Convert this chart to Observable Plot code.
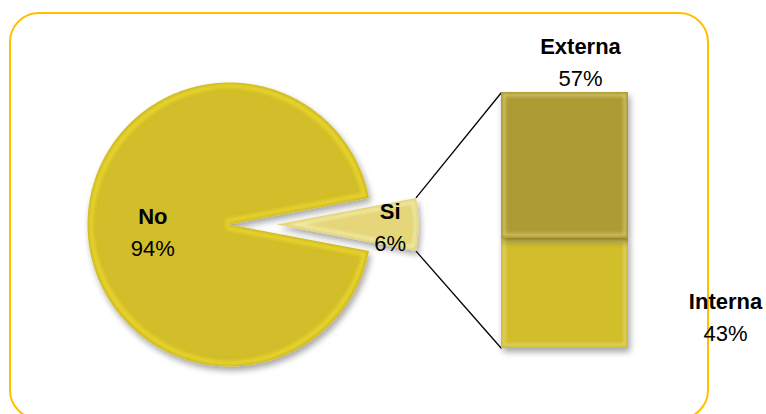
<!DOCTYPE html>
<html><head><meta charset="utf-8">
<script src="https://cdn.jsdelivr.net/npm/d3@7"></script>
<script src="https://cdn.jsdelivr.net/npm/@observablehq/plot@0.6"></script>
<style>
html,body{margin:0;padding:0;background:#fff;}
#wrap{position:relative;width:766px;height:414px;overflow:hidden;}
#frame{position:absolute;left:9px;top:12px;width:700px;height:408px;border:2px solid #FFC000;border-radius:30px;box-sizing:border-box;}
#chart{position:absolute;left:0;top:0;}
</style></head>
<body><div id="wrap"><div id="frame"></div><div id="chart"></div></div>
<script>
// ---- data ----
const pieCategories = ["No", "Si"];
const pieValues = [94, 6];
const barCategories = ["Externa", "Interna"];
const barValues = [57, 43];

// ---- layout ----
const W = 766, H = 414;
const cx = 229, cy = 224, R = 142, explode = 47;
const bar = {x0: 501, x1: 628, top: 92, bottom: 348};
const font = "'Liberation Sans', Arial, sans-serif";

const pieData = pieCategories.map((name, i) => ({name, value: pieValues[i]}));
const total = d3.sum(pieValues);
const siFrac = pieValues[1] / total;
const start = Math.PI / 2 + siFrac * Math.PI;
const arcs = d3.pie().sort(null).value(d => d.value).startAngle(start).endAngle(start + 2 * Math.PI)(pieData);

function pt(a, r, ox, oy) { return {x: ox + r * Math.sin(a), y: oy - r * Math.cos(a)}; }

const slices = arcs.map(a => {
  const mid = (a.startAngle + a.endAngle) / 2;
  const off = a.data.name === "Si" ? explode : 0;
  const ox = cx + off * Math.sin(mid), oy = cy - off * Math.cos(mid);
  const pts = [{x: ox, y: oy}];
  const n = Math.max(8, Math.ceil((a.endAngle - a.startAngle) / (Math.PI / 360)));
  for (let k = 0; k <= n; k++) pts.push(pt(a.startAngle + (a.endAngle - a.startAngle) * k / n, R, ox, oy));
  pts.push({x: ox, y: oy});
  return {name: a.data.name, value: a.data.value, ox, oy, mid, start: a.startAngle, end: a.endAngle, pts};
});
const noSlice = slices.find(s => s.name === "No");
const siSlice = slices.find(s => s.name === "Si");

// bar stack (Interna bottom, Externa top)
const barTotal = d3.sum(barValues);
const yb = d3.scaleLinear().domain([0, barTotal]).range([bar.bottom, bar.top]);
const order = ["Interna", "Externa"];
let acc = 0;
const barStack = order.map(name => {
  const v = barValues[barCategories.indexOf(name)];
  const r = {name, value: v, y1: yb(acc), y2: yb(acc + v), x1: bar.x0, x2: bar.x1};
  acc += v;
  return r;
});

// connectors
const siTop = pt(siSlice.start, R, siSlice.ox, siSlice.oy);
const siBot = pt(siSlice.end, R, siSlice.ox, siSlice.oy);
const links = [
  {x1: siTop.x, y1: siTop.y, x2: bar.x0, y2: yb(barTotal)},
  {x1: siBot.x, y1: siBot.y, x2: bar.x0, y2: yb(0)}
];

// labels
const labels = [
  {name: "No", x: cx - 0.54 * R, y: cy + 8},
  {name: "Si", x: siSlice.ox + 0.8 * R, y: cy + 3},
  {name: "Externa", x: bar.x1 - 48, y: 62},
  {name: "Interna", x: 725, y: 317}
].map(l => {
  const pi = pieCategories.indexOf(l.name);
  const v = pi >= 0 ? pieValues[pi] : barValues[barCategories.indexOf(l.name)];
  return {...l, pct: v + "%"};
});

const plot = Plot.plot({
  width: W, height: H, margin: 0,
  x: {domain: [0, W], range: [0, W], axis: null},
  y: {domain: [0, H], range: [0, H], axis: null},
  marks: [
    Plot.link(links, {x1: "x1", y1: "y1", x2: "x2", y2: "y2", stroke: "#000", strokeWidth: 1.3}),
    Plot.line(noSlice.pts, {x: "x", y: "y", fill: "#D2BD2B", stroke: "none", className: "slice-no"}),
    Plot.line(siSlice.pts, {x: "x", y: "y", fill: "#E4D679", stroke: "none", className: "slice-si"}),
    Plot.rect(barStack, {x1: "x1", x2: "x2", y1: "y1", y2: "y2",
      fill: d => d.name === "Externa" ? "#AD9B35" : "#D2BD2B", className: "bar-seg"}),
    Plot.text(labels, {x: "x", y: "y", text: "name", dy: -15.5, fontSize: 22, fontWeight: "bold", fontFamily: font, fill: "#000"}),
    Plot.text(labels, {x: "x", y: "y", text: "pct", dy: 16, fontSize: 22, fontFamily: font, fill: "#000"})
  ]
});
document.getElementById("chart").appendChild(plot);

const svg = d3.select(plot);
const defs = svg.insert("defs", ":first-child");
function fx(id, rimColor, rimOpacity, erode) {
  const f = defs.append("filter").attr("id", id).attr("x", "-15%").attr("y", "-15%").attr("width", "140%").attr("height", "140%");
  f.append("feMorphology").attr("in", "SourceAlpha").attr("operator", "erode").attr("radius", erode).attr("result", "er");
  f.append("feGaussianBlur").attr("in", "er").attr("stdDeviation", 1.5).attr("result", "erb");
  f.append("feComposite").attr("in", "SourceAlpha").attr("in2", "erb").attr("operator", "out").attr("result", "rim");
  f.append("feMorphology").attr("in", "SourceAlpha").attr("operator", "erode").attr("radius", 1.5).attr("result", "er2");
  f.append("feComposite").attr("in", "rim").attr("in2", "er2").attr("operator", "in").attr("result", "rim2");
  f.append("feGaussianBlur").attr("in", "rim2").attr("stdDeviation", 1).attr("result", "rimb");
  f.append("feFlood").attr("flood-color", rimColor).attr("flood-opacity", rimOpacity);
  f.append("feComposite").attr("in2", "rimb").attr("operator", "in").attr("result", "rimc");
  f.append("feGaussianBlur").attr("in", "SourceAlpha").attr("stdDeviation", 3).attr("result", "sh");
  f.append("feOffset").attr("in", "sh").attr("dx", 2).attr("dy", 4).attr("result", "sho");
  const ct = f.append("feComponentTransfer").attr("in", "sho").attr("result", "shadow");
  ct.append("feFuncA").attr("type", "linear").attr("slope", 0.35);
  const m = f.append("feMerge");
  m.append("feMergeNode").attr("in", "shadow");
  m.append("feMergeNode").attr("in", "SourceGraphic");
  m.append("feMergeNode").attr("in", "rimc");
}
fx("fxNo", "#EEDC2E", 0.75, 5);
fx("fxSi", "#F6EFAE", 0.9, 4);
fx("fxBar", "#F0E588", 0.55, 4);
svg.selectAll("g.slice-no").attr("filter", "url(#fxNo)");
svg.selectAll("g.slice-si").attr("filter", "url(#fxSi)");
svg.selectAll("g.bar-seg rect").attr("filter", "url(#fxBar)");
</script>
</body></html>
